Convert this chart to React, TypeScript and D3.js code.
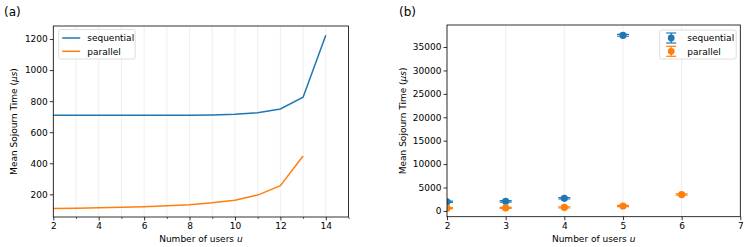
import React, { useEffect, useRef } from "react";
import * as d3 from "d3";

// panel (a): mean sojourn time vs users
const usersSeqA = [2, 3, 4, 5, 6, 7, 8, 9, 10, 11, 12, 13, 14];
const seqA = [710, 710, 710, 710, 709, 709, 710, 711, 715, 725, 750, 825, 1225];
const usersParA = [2, 3, 4, 5, 6, 7, 8, 9, 10, 11, 12, 13];
const parA = [108, 110, 113, 116, 120, 126, 133, 145, 162, 195, 256, 447];

// panel (b): measured points with error bars
const usersSeqB = [2, 3, 4, 5];
const seqB = [1950, 2050, 2700, 37500];
const seqErrB = [150, 150, 150, 200];
const usersParB = [2, 3, 4, 5, 6];
const parB = [600, 650, 750, 1050, 3500];
const parErrB = [120, 120, 120, 150, 150];

const ticksA = [2, 4, 6, 8, 10, 12, 14];
const yTicksA = [200, 400, 600, 800, 1000, 1200];
const ticksB = [2, 3, 4, 5, 6, 7];
const yTicksB = [0, 5000, 10000, 15000, 20000, 25000, 30000, 35000];
const seriesNames = ["sequential", "parallel"];

const BLUE = "#1f77b4";
const ORANGE = "#ff7f0e";
const FONT = "DejaVu Sans";

const App: React.FC = () => {
    const ref = useRef<SVGSVGElement>(null);

    useEffect(() => {
        if (!ref.current) return;
        const svg = d3.select(ref.current);
        svg.selectAll("*").remove();

        const drawFrame = (
            g: d3.Selection<SVGGElement, unknown, null, undefined>,
            x: d3.ScaleLinear<number, number>,
            y: d3.ScaleLinear<number, number>,
            xTicks: number[],
            minor: number[],
            grid: number[],
            yTicks: number[]
        ) => {
            const [x0, x1] = x.range();
            const [y1, y0] = y.range();
            g.selectAll(".grid")
                .data(grid)
                .join("line")
                .attr("x1", (d) => x(d))
                .attr("x2", (d) => x(d))
                .attr("y1", y0)
                .attr("y2", y1)
                .attr("stroke", "#ebebeb")
                .attr("stroke-width", 0.8);

            const xAxis = g
                .append("g")
                .attr("transform", `translate(0,${y1})`)
                .call(d3.axisBottom(x).tickValues(xTicks).tickSize(3.5).tickPadding(2).tickFormat(d3.format("d")));
            g.append("g")
                .attr("transform", `translate(0,${y1})`)
                .call(d3.axisBottom(x).tickValues(minor).tickSize(2).tickFormat(() => ""))
                .call((a) => a.select(".domain").remove())
                .selectAll("line")
                .attr("stroke", "#000")
                .attr("stroke-width", 0.6);
            const yAxis = g
                .append("g")
                .attr("transform", `translate(${x0},0)`)
                .call(d3.axisLeft(y).tickValues(yTicks).tickSize(3.5).tickPadding(2).tickFormat(d3.format("d")));
            [xAxis, yAxis].forEach((a) => {
                a.select(".domain").remove();
                a.selectAll("text").attr("font-family", FONT).attr("font-size", 9).attr("fill", "#000");
                a.selectAll("line").attr("stroke", "#000").attr("stroke-width", 0.8);
            });
            return { x0, x1, y0, y1 };
        };

        const frameBox = (g: any, b: { x0: number; x1: number; y0: number; y1: number }) => {
            g.append("rect")
                .attr("x", b.x0)
                .attr("y", b.y0)
                .attr("width", b.x1 - b.x0)
                .attr("height", b.y1 - b.y0)
                .attr("fill", "none")
                .attr("stroke", "#000")
                .attr("stroke-width", 0.8);
        };

        const axisLabels = (g: any, b: any, ylx: number) => {
            const xl = g
                .append("text")
                .attr("x", (b.x0 + b.x1) / 2)
                .attr("y", b.y1 + 25)
                .attr("text-anchor", "middle")
                .attr("font-family", FONT)
                .attr("font-size", 9);
            xl.append("tspan").text("Number of users ");
            xl.append("tspan").attr("font-style", "italic").text("u");

            const yl = g
                .append("text")
                .attr("transform", `translate(${ylx},${(b.y0 + b.y1) / 2}) rotate(-90)`)
                .attr("text-anchor", "middle")
                .attr("font-family", FONT)
                .attr("font-size", 9);
            yl.append("tspan").text("Mean Sojourn Time (");
            yl.append("tspan").attr("font-style", "italic").text("μs");
            yl.append("tspan").text(")");
        };

        // ---------- panel (a)
        const gA = svg.append("g");
        const xA = d3.scaleLinear().domain([2, 15]).range([53.3, 348.5]);
        const yA = d3.scaleLinear().domain([54, 1284]).range([217, 26]);
        const bA = drawFrame(gA, xA, yA, ticksA, d3.range(3, 16, 2), d3.range(2, 16), yTicksA);

        const lineA = (xs: number[], ys: number[]) =>
            d3
                .line<number>()
                .x((d) => xA(d))
                .y((d, i) => yA(ys[i]))(xs);
        gA.append("path").attr("d", lineA(usersSeqA, seqA)).attr("fill", "none").attr("stroke", BLUE).attr("stroke-width", 1.5);
        gA.append("path").attr("d", lineA(usersParA, parA)).attr("fill", "none").attr("stroke", ORANGE).attr("stroke-width", 1.5);
        frameBox(gA, bA);
        axisLabels(gA, bA, 17);

        const legA = gA.append("g").attr("transform", "translate(58.7,29.5)");
        legA.append("rect").attr("width", 76.5).attr("height", 29.5).attr("rx", 2).attr("fill", "#fff").attr("fill-opacity", 0.8).attr("stroke", "#d5d5d5").attr("stroke-width", 0.8);
        seriesNames.forEach((name, i) => {
            const c = i === 0 ? BLUE : ORANGE;
            const yy = 8.5 + i * 13.3;
            legA.append("line").attr("x1", 3.5).attr("x2", 21.5).attr("y1", yy).attr("y2", yy).attr("stroke", c).attr("stroke-width", 1.5);
            legA.append("text").attr("x", 28.5).attr("y", yy + 3.2).attr("font-family", FONT).attr("font-size", 9).text(name);
        });

        svg.append("text").attr("x", 4).attr("y", 16).attr("font-family", FONT).attr("font-size", 12).text("(a)");

        // ---------- panel (b)
        const gB = svg.append("g");
        const xB = d3.scaleLinear().domain([2, 7]).range([447, 740.3]);
        const yB = d3.scaleLinear().domain([-1230, 39700]).range([216.7, 25]);
        const bB = drawFrame(gB, xB, yB, ticksB, [], ticksB, yTicksB);

        svg.append("defs")
            .append("clipPath")
            .attr("id", "clipB")
            .append("rect")
            .attr("x", bB.x0)
            .attr("y", bB.y0)
            .attr("width", bB.x1 - bB.x0)
            .attr("height", bB.y1 - bB.y0);

        const pts = gB.append("g").attr("clip-path", "url(#clipB)");
        const drawErr = (xs: number[], ys: number[], es: number[], c: string) => {
            xs.forEach((u, i) => {
                const cx = xB(u);
                const top = yB(ys[i] + es[i]);
                const bot = yB(ys[i] - es[i]);
                pts.append("line").attr("x1", cx).attr("x2", cx).attr("y1", top).attr("y2", bot).attr("stroke", c).attr("stroke-width", 1.5);
                [top, bot].forEach((yy) =>
                    pts.append("line").attr("x1", cx - 6).attr("x2", cx + 6).attr("y1", yy).attr("y2", yy).attr("stroke", c).attr("stroke-width", 1.2)
                );
                pts.append("circle").attr("cx", cx).attr("cy", yB(ys[i])).attr("r", 3.6).attr("fill", c);
            });
        };
        drawErr(usersSeqB, seqB, seqErrB, BLUE);
        drawErr(usersParB, parB, parErrB, ORANGE);
        frameBox(gB, bB);
        axisLabels(gB, bB, 406);

        const legB = gB.append("g").attr("transform", "translate(659.7,30)");
        legB.append("rect").attr("width", 76.5).attr("height", 29).attr("rx", 2).attr("fill", "#fff").attr("fill-opacity", 0.8).attr("stroke", "#d5d5d5").attr("stroke-width", 0.8);
        seriesNames.forEach((name, i) => {
            const c = i === 0 ? BLUE : ORANGE;
            const yy = 8 + i * 13.3;
            const cx = 11.5;
            legB.append("line").attr("x1", cx).attr("x2", cx).attr("y1", yy - 5).attr("y2", yy + 5).attr("stroke", c).attr("stroke-width", 1.2);
            [yy - 5, yy + 5].forEach((v) => legB.append("line").attr("x1", cx - 5).attr("x2", cx + 5).attr("y1", v).attr("y2", v).attr("stroke", c).attr("stroke-width", 1.2));
            legB.append("circle").attr("cx", cx).attr("cy", yy).attr("r", 3.4).attr("fill", c);
            legB.append("text").attr("x", 27.5).attr("y", yy + 3.2).attr("font-family", FONT).attr("font-size", 9).text(name);
        });

        svg.append("text").attr("x", 399).attr("y", 16).attr("font-family", FONT).attr("font-size", 12).text("(b)");
    }, []);

    return (
        <svg
            ref={ref}
            width={747}
            height={247}
            style={{ position: "absolute", left: 0, top: 0, background: "#fff" }}
        />
    );
};

export default App;
